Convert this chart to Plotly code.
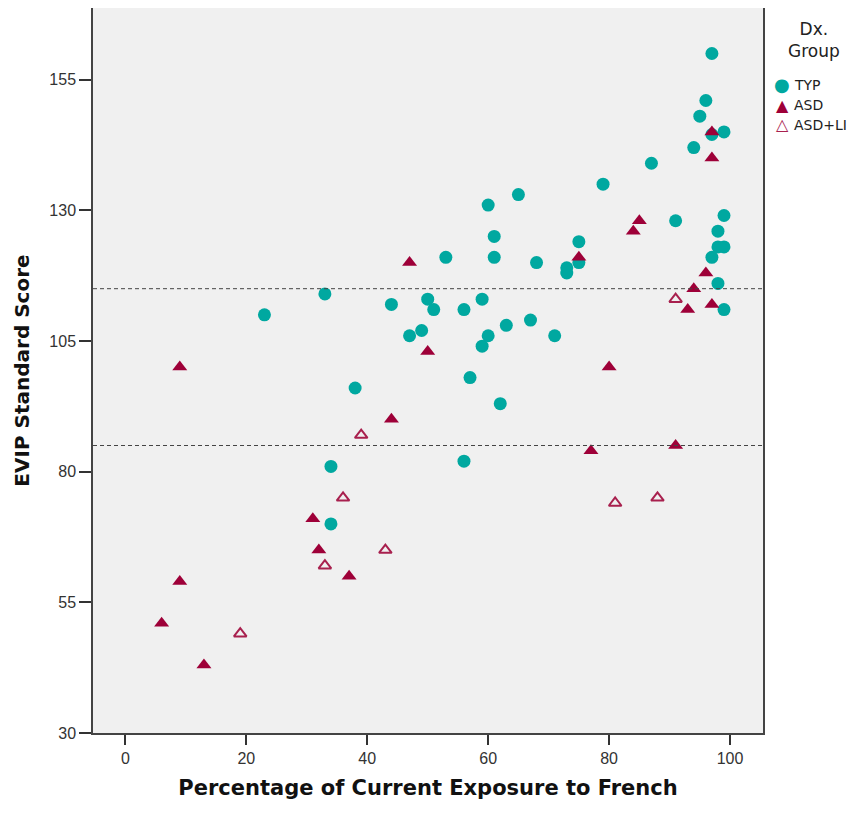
import plotly.graph_objects as go

# ---- data ----
typ_x = [23, 33, 34, 34, 38, 44, 47, 49, 50, 51, 53, 56, 56, 57, 59, 59, 60, 60, 61, 61, 62, 63, 65, 67, 68, 71,
         73, 73, 75, 75, 79, 87, 91, 94, 95, 96, 97, 97, 99, 99, 98, 98, 99, 97, 98, 99]
typ_y = [110, 114, 81, 70, 96, 112, 106, 107, 113, 111, 121, 111, 82, 98, 113, 104, 106, 131, 125, 121, 93, 108,
         133, 109, 120, 106, 119, 118, 124, 120, 135, 139, 128, 142, 148, 151, 160, 144.5, 145, 129, 126, 123, 123,
         121, 116, 111]

asd_x = [6, 9, 9, 13, 31, 32, 37, 44, 47, 50, 75, 77, 80, 84, 85, 91, 93, 94, 96, 97, 97, 97]
asd_y = [51, 100, 59, 43, 71, 65, 60, 90, 120, 103, 121, 84, 100, 126, 128, 85, 111, 115, 118, 112, 140, 145]

asdli_x = [19, 33, 36, 39, 43, 81, 88, 91]
asdli_y = [49, 62, 75, 87, 65, 74, 75, 113]

group_names = ["TYP", "ASD", "ASD+LI"]
legend_title = "Dx.<br>Group"
ref_lines = [85, 115]
y_ticks = [30, 55, 80, 105, 130, 155]
x_ticks = [0, 20, 40, 60, 80, 100]

TEAL = "#00A8A0"
RED = "#9E0038"
RED_OPEN = "#A8204E"
TITLE_FONT = "DejaVu Sans, Liberation Sans, sans-serif"
TICK_FONT = "Liberation Sans, Arial, sans-serif"

# page offset of the figure inside the browser page (default body margin)
OFF = 8
W, H = 859, 813
# plot area in page pixels: left 93, top 8, right 763, bottom 733
ML, MT = 93 - OFF, 8 - OFF
MR, MB = W - (763 - OFF), H - (733 - OFF)
PW, PH = W - ML - MR, H - MT - MB


def page_to_paper(px, py):
    fx, fy = px - OFF, py - OFF
    return (fx - ML) / PW, (H - MB - fy) / PH


fig = go.Figure()
fig.add_trace(go.Scatter(x=typ_x, y=typ_y, mode="markers", name=group_names[0],
                         marker=dict(symbol="circle", size=13, color=TEAL, line=dict(width=0))))
fig.add_trace(go.Scatter(x=asd_x, y=asd_y, mode="markers", name=group_names[1],
                         marker=dict(symbol="triangle-up", size=13, color=RED, line=dict(width=0))))
fig.add_trace(go.Scatter(x=asdli_x, y=asdli_y, mode="markers", name=group_names[2],
                         marker=dict(symbol="triangle-up-open", size=11, color=RED_OPEN,
                                     line=dict(width=2, color=RED_OPEN))))

for v in ref_lines:
    fig.add_shape(type="line", xref="paper", x0=0, x1=1, yref="y", y0=v, y1=v,
                  line=dict(color="#444444", width=1, dash="4px,3px"), layer="above")

# legend drawn as text (title + keys)
ann = []
tx, ty = page_to_paper(814, 40)
ann.append(dict(text=legend_title, x=tx, y=ty, xref="paper", yref="paper", showarrow=False,
                xanchor="center", yanchor="middle", align="center",
                font=dict(family=TITLE_FONT, size=17, color="#222")))
symbols = [("\u25CF", TEAL, 18), ("\u25B2", RED, 16), ("\u25B3", RED_OPEN, 16)]
rows = [85, 105, 125]
for (sym, col, sz), name, ry in zip(symbols, group_names, rows):
    sx, sy = page_to_paper(782, ry)
    ann.append(dict(text=sym, x=sx, y=sy, xref="paper", yref="paper", showarrow=False,
                    xanchor="center", yanchor="middle", font=dict(family=TITLE_FONT, size=sz, color=col)))
    lx, ly = page_to_paper(792, ry)
    ann.append(dict(text=name, x=lx, y=ly, xref="paper", yref="paper", showarrow=False,
                    xanchor="left", yanchor="middle", font=dict(family=TITLE_FONT, size=14, color="#222")))

fig.update_layout(
    width=W, height=H,
    margin=dict(l=ML, r=MR, t=MT, b=MB, autoexpand=False),
    paper_bgcolor="white",
    plot_bgcolor="#F0F0F0",
    font=dict(family=TICK_FONT, color="#222222", size=16),
    showlegend=False,
    annotations=ann,
    xaxis=dict(
        range=[-5.35, 105.45], tickvals=x_ticks, ticks="outside", ticklen=10, tickwidth=1.5,
        tickcolor="#333", showgrid=False, zeroline=False, automargin=False,
        showline=True, mirror=True, linecolor="#444", linewidth=1.5,
        tickfont=dict(size=16, color="#333", family=TICK_FONT),
        title=dict(text="<b>Percentage of Current Exposure to French</b>",
                   font=dict(size=21, family=TITLE_FONT, color="#111"), standoff=14),
    ),
    yaxis=dict(
        range=[30, 168.7], tickvals=y_ticks, ticks="outside", ticklen=12, tickwidth=1.5,
        tickcolor="#333", showgrid=False, zeroline=False, automargin=False,
        showline=True, mirror=True, linecolor="#444", linewidth=1.5,
        tickfont=dict(size=16, color="#333", family=TICK_FONT),
        title=dict(text="<b>EVIP Standard Score</b>",
                   font=dict(size=20, family=TITLE_FONT, color="#111"), standoff=14),
    ),
)

fig.write_html("out.html")
